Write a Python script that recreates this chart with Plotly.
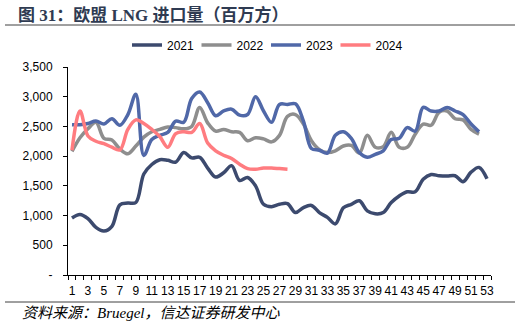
import plotly.graph_objects as go

weeks_2021 = list(range(1, 54))
weeks_2022 = list(range(1, 53))
weeks_2023 = list(range(1, 53))
weeks_2024 = list(range(1, 29))

v2021 = [960, 1020, 950, 800, 740, 820, 1180, 1210, 1220, 1700,
         1860, 1940, 1930, 1900, 2060, 1970, 1980, 1800, 1650, 1720,
         1840, 1590, 1640, 1500, 1190, 1150, 1190, 1200, 1050, 1135,
         1170, 1050, 970, 860, 1130, 1190, 1250, 1080, 1030, 1050,
         1220, 1330, 1400, 1400, 1610, 1690, 1670, 1665, 1670, 1570,
         1730, 1810, 1620]
v2022 = [2080, 2310, 2460, 2570, 2300, 2270, 2120, 2040, 2170, 2320,
         2410, 2450, 2490, 2480, 2460, 2500, 2820, 2560, 2420, 2450,
         2410, 2400, 2260, 2310, 2290, 2240, 2350, 2670, 2700, 2540,
         2260, 2110, 2060, 2090, 2170, 2180, 2050, 2350, 2150, 2160,
         2400, 2150, 2150, 2370, 2540, 2520, 2740, 2760, 2630, 2610,
         2450, 2370]
v2023 = [2530, 2530, 2550, 2590, 2540, 2630, 2520, 2700, 3040, 2010,
         2280, 2350, 2400, 2590, 2570, 2970, 3080, 2900, 2680, 2760,
         2790, 2690, 2700, 3000, 2760, 2570, 2870, 2870, 2880, 2590,
         2130, 2100, 2050, 2350, 2410, 2300, 2060, 1980, 2030, 2090,
         2280, 2300, 2480, 2420, 2820, 2760, 2760, 2820, 2760, 2700,
         2540, 2410]
v2024 = [2100, 2760, 2340, 2250, 2210, 2150, 2105, 2450, 2610, 2550,
         2450, 2330, 2150, 2380, 2410, 2400, 2550, 2220, 2090, 2015,
         1960, 1865, 1790, 1780, 1800, 1800, 1790, 1780]

series = [
    ("2021", weeks_2021, v2021, "#3C4A6E"),
    ("2022", weeks_2022, v2022, "#8E8E8E"),
    ("2023", weeks_2023, v2023, "#5068A8"),
    ("2024", weeks_2024, v2024, "#FF7C80"),
]

x_tickvals = list(range(1, 54, 2))
x_ticktext = [str(v) for v in x_tickvals]
y_tickvals = [0, 500, 1000, 1500, 2000, 2500, 3000, 3500]
y_ticktext = ["-", "500", "1,000", "1,500", "2,000", "2,500", "3,000", "3,500"]

fig = go.Figure()
for name, xs, ys, color in series:
    fig.add_trace(go.Scatter(
        x=xs, y=ys, name=name, mode="lines",
        line=dict(color=color, width=3.5, shape="spline", smoothing=1.0),
    ))

PW, PH = 423.0, 208.0

fig.update_layout(
    width=521, height=329,
    margin=dict(l=68, r=30, t=67, b=54),
    paper_bgcolor="white", plot_bgcolor="white",
    font=dict(family="Liberation Sans, Arial, sans-serif", size=12, color="#000000"),
    showlegend=True,
    legend=dict(
        orientation="h", x=(127 - 68) / PW, xanchor="left",
        y=1 + (67 - 45) / PH, yanchor="middle",
        font=dict(size=12, color="#000000"),
        entrywidth=24.5, entrywidthmode="pixels",
        bgcolor="rgba(0,0,0,0)",
    ),
    xaxis=dict(
        range=[0.5, 53.5], showgrid=False, zeroline=False,
        showline=True, linecolor="#000000", linewidth=1,
        tickmode="array", tickvals=x_tickvals, ticktext=x_ticktext,
        ticks="", tickfont=dict(size=12), ticklabelstandoff=5,
        minor=dict(tick0=0.5, dtick=1, ticks="outside", ticklen=4,
                   tickcolor="#000000", tickwidth=1, showgrid=False),
    ),
    yaxis=dict(
        range=[0, 3500], showgrid=False, zeroline=False,
        showline=True, linecolor="#000000", linewidth=1,
        tickmode="array", tickvals=y_tickvals, ticktext=y_ticktext,
        ticks="outside", ticklen=4, tickcolor="#000000",
        tickfont=dict(size=12), ticklabelstandoff=8,
    ),
)

fig.add_annotation(
    text="<b>图 31：欧盟 LNG 进口量（百万方）</b>",
    xref="paper", yref="paper", x=(16 - 68) / PW, y=1 + (67 - 15) / PH,
    xanchor="left", yanchor="middle", showarrow=False,
    font=dict(family="Liberation Serif, Noto Sans CJK SC", size=17, color="#2F3B52"),
)
fig.add_annotation(
    text="<i>资料来源：Bruegel，信达证券研发中心</i>",
    xref="paper", yref="paper", x=(20 - 68) / PW, y=-(313 - 275) / PH,
    xanchor="left", yanchor="middle", showarrow=False,
    font=dict(family="Liberation Serif, Noto Sans CJK SC", size=15, color="#000000"),
)
fig.add_shape(type="line", xref="paper", yref="paper",
              x0=(5 - 68) / PW, x1=(515 - 68) / PW,
              y0=1 + (67 - 25) / PH, y1=1 + (67 - 25) / PH,
              line=dict(color="#404040", width=1))
fig.add_shape(type="line", xref="paper", yref="paper",
              x0=(5 - 68) / PW, x1=(515 - 68) / PW,
              y0=-(302 - 275) / PH, y1=-(302 - 275) / PH,
              line=dict(color="#404040", width=1))

fig.write_html("out.html")
